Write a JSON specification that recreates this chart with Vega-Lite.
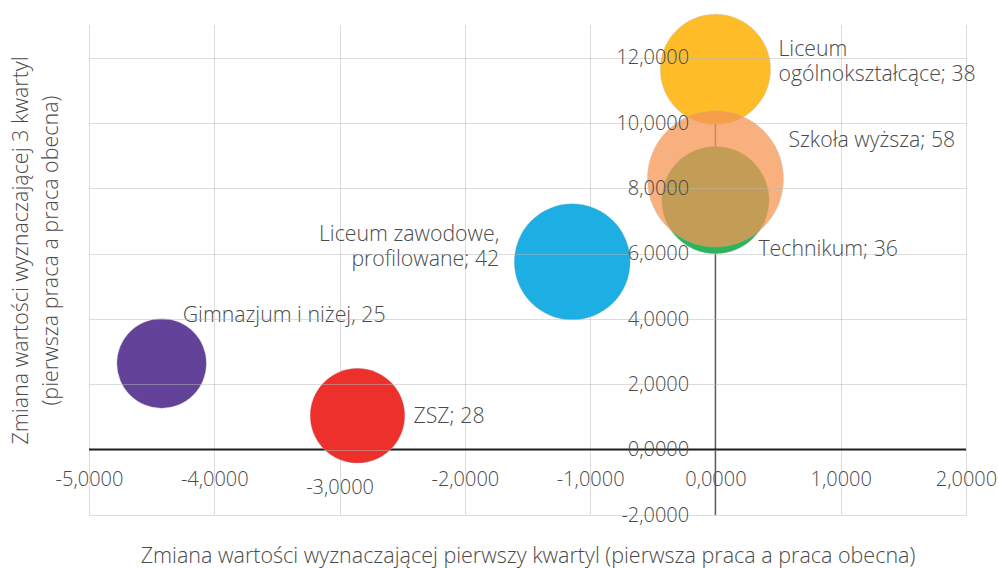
{
  "$schema": "https://vega.github.io/schema/vega-lite/v6.json",
  "width": 877,
  "height": 490,
  "autosize": {"type": "none"},
  "padding": {"left": 89, "top": 25, "right": 32, "bottom": 53},
  "config": {"view": {"stroke": null}, "font": "Open Sans"},
  "data": {
    "values": [
      {"name": "Gimnazjum i niżej", "label": "Gimnazjum i niżej, 25", "x": -4.42, "y": 2.64, "n": 25},
      {"name": "ZSZ", "label": "ZSZ; 28", "x": -2.857, "y": 1.04, "n": 28},
      {"name": "Liceum zawodowe, profilowane", "label": "Liceum zawodowe,\nprofilowane; 42", "x": -1.143, "y": 5.75, "n": 42},
      {"name": "Liceum ogólnokształcące", "label": "Liceum\nogólnokształcące; 38", "x": 0.0, "y": 11.64, "n": 38},
      {"name": "Technikum", "label": "Technikum; 36", "x": 0.0, "y": 7.64, "n": 36},
      {"name": "Szkoła wyższa", "label": "Szkoła wyższa; 58", "x": 0.0, "y": 8.29, "n": 58}
    ]
  },
  "layer": [
    {
      "data": {"values": [{}]},
      "mark": {"type": "rule", "color": "#595959", "strokeWidth": 1.5},
      "encoding": {"x": {"datum": 0, "type": "quantitative"}}
    },
    {
      "data": {"values": [{}]},
      "mark": {"type": "rule", "color": "#1f1f1f", "strokeWidth": 2.2},
      "encoding": {"y": {"datum": 0, "type": "quantitative"}}
    },
    {
      "mark": {"type": "circle", "stroke": "#bdbdbd", "strokeWidth": 0.7, "strokeDash": [1.5, 1.5]},
      "encoding": {
        "x": {
          "field": "x", "type": "quantitative",
          "scale": {"domain": [-5, 2], "nice": false, "zero": false},
          "axis": {
            "orient": "bottom", "offset": -65.3,
            "values": [-5, -4, -3, -2, -1, 0, 1, 2],
            "domain": false, "ticks": false, "tickSize": 0,
            "labelFlush": false, "labelOverlap": false, "labelBound": false,
            "grid": true, "gridColor": "#b8b8b8", "gridDash": [1, 1], "gridWidth": 1,
            "labelPadding": {"condition": {"test": "datum.value === -3", "value": 28}, "value": 20},
            "labelExpr": "(datum.value < 0 ? '-' : '') + replace(format(abs(datum.value), '.4f'), '.', ',')",
            "labelFontSize": 20, "labelColor": "#4a4a4a", "labelFont": "Open Sans", "labelFontWeight": 300,
            "title": "Zmiana wartości wyznaczającej pierwszy kwartyl (pierwsza praca a praca obecna)",
            "titleFontSize": 21.5, "titleFontWeight": 300, "titleColor": "#4a4a4a", "titleFont": "Open Sans",
            "titleY": 107, "titleBaseline": "middle"
          }
        },
        "y": {
          "field": "y", "type": "quantitative",
          "scale": {"domain": [-2, 13], "nice": false, "zero": false},
          "axis": {
            "orient": "left", "offset": -626.7,
            "values": [-2, 0, 2, 4, 6, 8, 10, 12],
            "domain": false, "ticks": false, "tickSize": 0,
            "labelFlush": false, "labelOverlap": false, "labelBound": false,
            "grid": true, "gridColor": "#b8b8b8", "gridDash": [1, 1], "gridWidth": 1,
            "labelPadding": 27, "zindex": 1,
            "labelExpr": "(datum.value < 0 ? '-' : '') + replace(format(abs(datum.value), '.4f'), '.', ',')",
            "labelFontSize": 20, "labelColor": "#4a4a4a", "labelFont": "Open Sans", "labelFontWeight": 300,
            "title": ["Zmiana wartości wyznaczającej 3 kwartyl", "(pierwsza praca a praca obecna)"],
            "titleFontSize": 21.5, "titleFontWeight": 300, "titleColor": "#4a4a4a", "titleFont": "Open Sans",
            "titleLineHeight": 30,
            "titleAngle": -90, "titleX": -694, "titleY": 225, "titleAlign": "center", "titleBaseline": "middle"
          }
        },
        "size": {"field": "n", "type": "quantitative", "scale": {"type": "linear", "domain": [0, 58], "range": [0, 18560]}, "legend": null},
        "color": {
          "field": "name", "type": "nominal", "legend": null,
          "scale": {
            "domain": ["Gimnazjum i niżej", "ZSZ", "Liceum zawodowe, profilowane", "Liceum ogólnokształcące", "Technikum", "Szkoła wyższa"],
            "range": ["#634399", "#EE302D", "#1DAEE3", "#FDBC28", "#2DB45B", "#F69653"]
          }
        },
        "opacity": {"condition": {"test": "datum.name === 'Szkoła wyższa'", "value": 0.75}, "value": 1}
      }
    },
    {
      "transform": [{"filter": "datum.name === 'Liceum ogólnokształcące'"}],
      "mark": {"type": "text", "align": "left", "baseline": "middle", "dx": 63, "dy": -19.5, "fontSize": 21.3, "fontWeight": 300, "lineHeight": 25, "color": "#4a4a4a", "lineBreak": "\n"},
      "encoding": {"x": {"field": "x", "type": "quantitative"}, "y": {"field": "y", "type": "quantitative"}, "text": {"field": "label"}}
    },
    {
      "transform": [{"filter": "datum.name === 'Szkoła wyższa'"}],
      "mark": {"type": "text", "align": "left", "baseline": "middle", "dx": 73, "dy": -38, "fontSize": 21.3, "fontWeight": 300, "color": "#4a4a4a"},
      "encoding": {"x": {"field": "x", "type": "quantitative"}, "y": {"field": "y", "type": "quantitative"}, "text": {"field": "label"}}
    },
    {
      "transform": [{"filter": "datum.name === 'Technikum'"}],
      "mark": {"type": "text", "align": "left", "baseline": "middle", "dx": 43, "dy": 50, "fontSize": 21.3, "fontWeight": 300, "color": "#4a4a4a"},
      "encoding": {"x": {"field": "x", "type": "quantitative"}, "y": {"field": "y", "type": "quantitative"}, "text": {"field": "label"}}
    },
    {
      "transform": [{"filter": "datum.name === 'Liceum zawodowe, profilowane'"}],
      "mark": {"type": "text", "align": "right", "baseline": "middle", "dx": -73, "dy": -27, "fontSize": 21.3, "fontWeight": 300, "lineHeight": 25, "color": "#4a4a4a", "lineBreak": "\n"},
      "encoding": {"x": {"field": "x", "type": "quantitative"}, "y": {"field": "y", "type": "quantitative"}, "text": {"field": "label"}}
    },
    {
      "transform": [{"filter": "datum.name === 'Gimnazjum i niżej'"}],
      "mark": {"type": "text", "align": "left", "baseline": "middle", "dx": 21, "dy": -47, "fontSize": 21.3, "fontWeight": 300, "color": "#4a4a4a"},
      "encoding": {"x": {"field": "x", "type": "quantitative"}, "y": {"field": "y", "type": "quantitative"}, "text": {"field": "label"}}
    },
    {
      "transform": [{"filter": "datum.name === 'ZSZ'"}],
      "mark": {"type": "text", "align": "left", "baseline": "middle", "dx": 56, "dy": 1, "fontSize": 21.3, "fontWeight": 300, "color": "#4a4a4a"},
      "encoding": {"x": {"field": "x", "type": "quantitative"}, "y": {"field": "y", "type": "quantitative"}, "text": {"field": "label"}}
    }
  ]
}
